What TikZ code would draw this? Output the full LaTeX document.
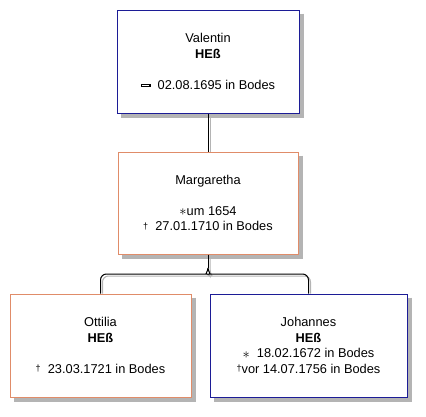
\documentclass[tikz,border=0pt]{standalone}
\usepackage{fontspec}
\setmainfont{Liberation Sans}

\definecolor{maleline}{RGB}{28,28,150}
\definecolor{femaleline}{RGB}{224,140,105}
\definecolor{shadowgray}{RGB}{180,180,180}

\newcommand{\born}{\raisebox{-0.5pt}{\Large$\ast$}}
\newcommand{\died}{\raisebox{1.5pt}{\small †}}
\newcommand{\buried}{\raisebox{3pt}{\setlength{\fboxsep}{0pt}\setlength{\fboxrule}{1.1pt}%
  \fbox{\rule{0pt}{1.2pt}\rule{7.5pt}{0pt}}}}

\tikzset{
  person/.style={draw, fill=white, line width=1pt, align=center,
    inner sep=0pt, font=\fontsize{12.8}{15.5}\selectfont},
  male/.style={person, draw=maleline},
  female/.style={person, draw=femaleline},
  boxshadow/.style={draw=shadowgray, line width=4pt, line join=miter},
  link/.style={draw=black, line width=1pt, rounded corners=6pt},
  linkshadow/.style={draw=shadowgray, line width=1pt, rounded corners=6pt}
}

\begin{document}
\begin{tikzpicture}[x=1pt, y=-1pt]
  \useasboundingbox (0,0) rectangle (426,416);

  % people
  \node[male, minimum width=182pt, minimum height=103pt] (valentin) at (208,61.5)
    {Valentin\\ \textbf{HEß}\\[15.5pt] \buried\ \ 02.08.1695 in Bodes};
  \node[female, minimum width=180pt, minimum height=102pt] (margaretha) at (208,203)
    {Margaretha\\[15.5pt] \born um 1654\\ \died\ \ 27.01.1710 in Bodes};
  \node[female, minimum width=181pt, minimum height=103pt] (ottilia) at (100.5,345.5)
    {Ottilia\\ \textbf{HEß}\\[15.5pt] \died\ \ 23.03.1721 in Bodes};
  \node[male, minimum width=197pt, minimum height=103pt] (johannes) at (308.5,345.5)
    {Johannes\\ \textbf{HEß}\\ \born\ \ 18.02.1672 in Bodes\\ \died vor 14.07.1756 in Bodes};

  \coordinate (fork) at (208,268);

  % shadows
  \foreach \who in {valentin, margaretha, ottilia, johannes}
    \draw[boxshadow] ([shift={(2,4)}]\who.north east) -- ([shift={(2,2)}]\who.south east)
      -- ([shift={(4,2)}]\who.south west);
  \draw[linkshadow] ([shift={(2,2)}]valentin.south) -- ([shift={(2,0)}]margaretha.north);
  \draw[linkshadow] ([shift={(2,2)}]margaretha.south) -- ([shift={(2,2)}]fork)
    to[out=-90, in=0] (203,276) -| ([shift={(2,0)}]ottilia.north);
  \draw[linkshadow] ([shift={(2,2)}]fork) to[out=-90, in=180] (217,276)
    -| ([shift={(2,0)}]johannes.north);

  % links
  \draw[link] (valentin.south) -- (margaretha.north);
  \draw[link] (margaretha.south) -- (fork);
  \draw[link] (fork) to[out=-90, in=0] (201,274) -| (ottilia.north);
  \draw[link] (fork) to[out=-90, in=180] (215,274) -| (johannes.north);
\end{tikzpicture}
\end{document}
